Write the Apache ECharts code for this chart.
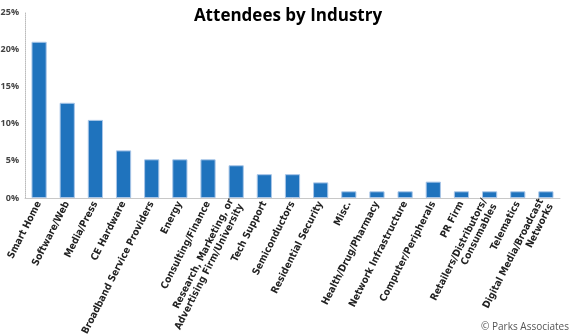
<!DOCTYPE html>
<html><head><meta charset="utf-8">
<script src="https://cdn.jsdelivr.net/npm/echarts@6/dist/echarts.min.js"></script>
<style>html,body{margin:0;padding:0;background:#fff}#c{width:575px;height:336px}</style>
</head><body><div id="c"></div>
<script>
const categories = ["Smart Home","Software/Web","Media/Press","CE Hardware","Broadband Service Providers","Energy","Consulting/Finance","Research, Marketing, or\nAdvertising Firm/University","Tech Support","Semiconductors","Residential Security","Misc.","Health/Drug/Pharmacy","Network Infrastructure","Computer/Peripherals","PR Firm","Retailers/Distributors/\nConsumables","Telematics","Digital Media/Broadcast\nNetworks"];
const values = [21.0,12.8,10.5,6.4,5.2,5.2,5.2,4.4,3.2,3.2,2.1,0.9,0.9,0.9,2.2,0.9,0.9,0.9,0.9];
const yTicks = [0,5,10,15,20,25];
const title = "Attendees by Industry";
const source = "© Parks Associates";
const labelFont = "'DejaVu Sans Condensed','Liberation Sans Narrow',sans-serif";
const chart = echarts.init(document.getElementById('c'));
chart.setOption({
  animation:false,
  title:{text:title,left:283,top:3,textAlign:'center',textStyle:{fontSize:17,fontWeight:'bold',color:'#000',fontFamily:"'Open Sans',sans-serif"}},
  graphic:[{type:'text',right:6,bottom:4,style:{text:source,fontSize:10,fill:'#555',fontFamily:"'Open Sans',sans-serif"}}],
  grid:{left:25,right:15,top:12,bottom:138,containLabel:false,outerBoundsMode:'none'},
  xAxis:{type:'category',data:categories,
    axisLine:{lineStyle:{color:'#c8c8c8',width:1}},axisTick:{show:false},
    axisLabel:{interval:0,rotate:63,fontSize:10,fontWeight:'bold',color:'#222',fontFamily:labelFont,margin:4,lineHeight:11,align:'right'}},
  yAxis:{type:'value',min:yTicks[0],max:yTicks[yTicks.length-1],interval:5,
    axisLine:{show:true,lineStyle:{color:'#bbb',type:'dotted'}},axisTick:{show:false},splitLine:{show:false},
    axisLabel:{formatter:v=>v+'%',fontSize:9,fontWeight:'bold',color:'#444',fontFamily:"'Open Sans',sans-serif",margin:6}},
  series:[{type:'bar',data:values,barWidth:'54%',itemStyle:{color:'#1f73bd',borderColor:'#a9c6e8',borderWidth:1}}]
});
</script></body></html>
